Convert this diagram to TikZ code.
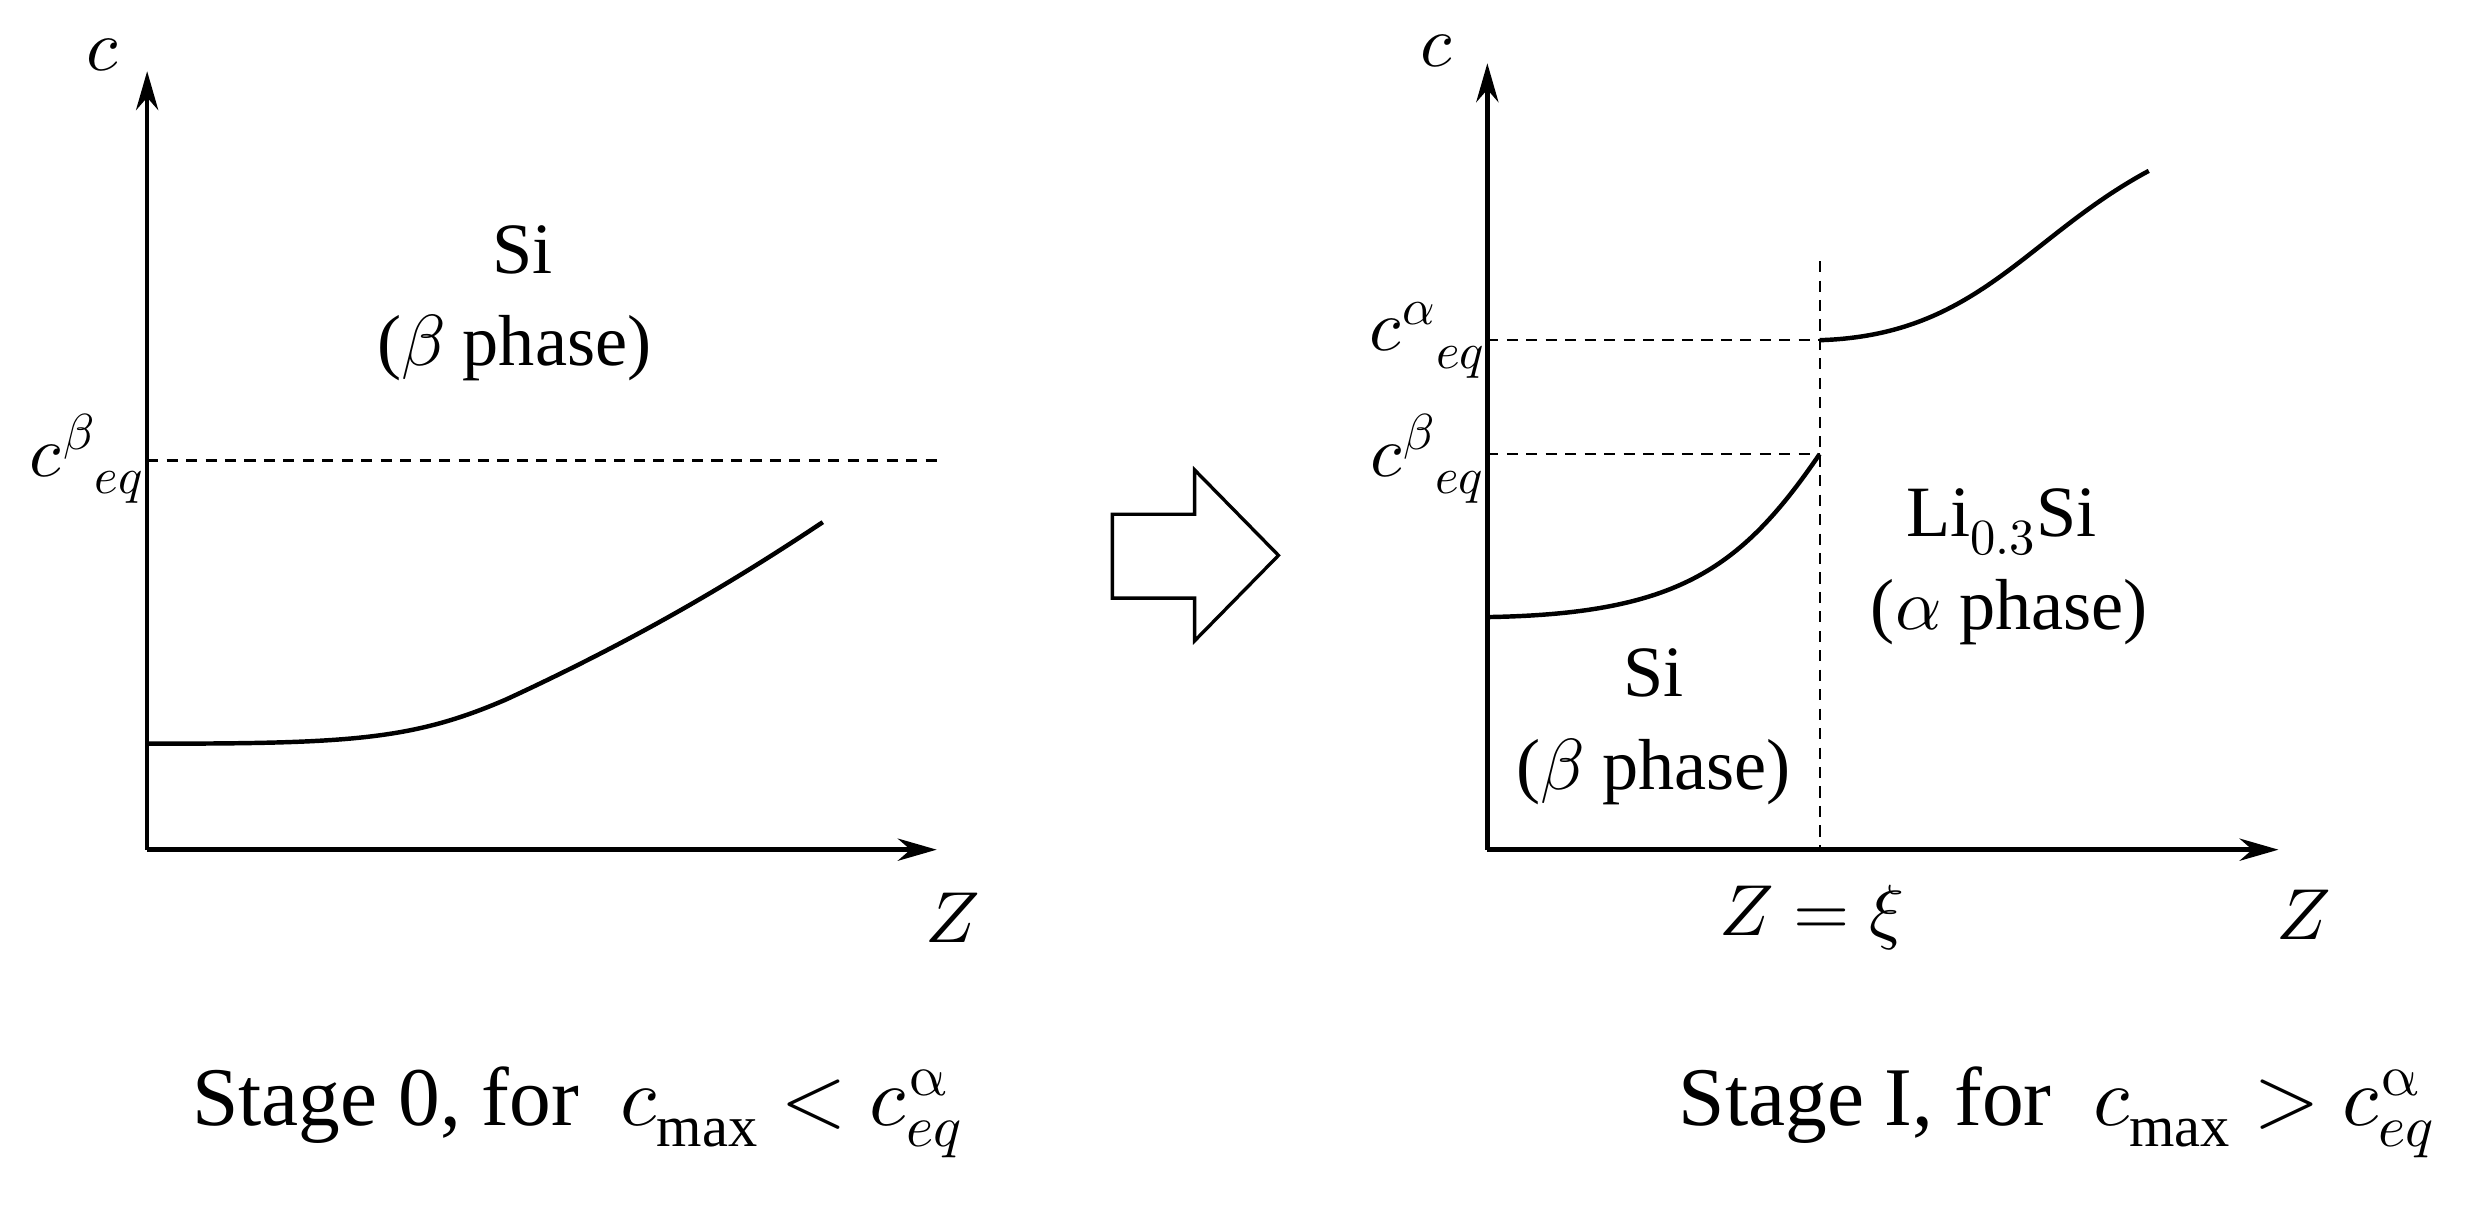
\documentclass[tikz,border=0pt]{standalone}
\usepackage{fontspec}
\setmainfont{Liberation Serif}
\usepackage{unicode-math}
\setmathfont{Latin Modern Math}
\usetikzlibrary{arrows.meta}
\begin{document}
\begin{tikzpicture}[x=0.02cm,y=-0.02cm,
 ax/.style={line width=1.6pt,-{Stealth[length=14pt,width=8pt]}},
 dsh/.style={line width=0.8pt,dash pattern=on 4pt off 3pt},
 crv/.style={line width=1.6pt},
 lab/.style={font=\fontsize{26}{30}\selectfont},
 captxt/.style={font=\fontsize{30}{34}\selectfont}]
\useasboundingbox (0,0) rectangle (1568,763);
% left panel
\coordinate (o1) at (93,537);
\coordinate (y1) at (93,45);
\coordinate (x1) at (592,537);
\draw[ax] (o1) -- (y1);
\draw[ax] (o1) -- (x1);
\node[lab] (c1) at (65,35) {$c$};
\node[lab] (z1) at (602,580) {$Z$};
\coordinate (d1a) at (93,291); \coordinate (d1b) at (595,291);
\draw[dsh] (d1a) -- (d1b);
\node[lab] (ceb1) at (55,290) {$c^{\beta}{}_{eq}$};
\draw[crv] (93,470) .. controls (220,470) and (260,468) .. (320,442) .. controls (400,405) and (460,370) .. (520,330);
\node[lab] (si1) at (330,158) {Si};
\node[lab] (bp1) at (325,220) {($\beta$ phase)};
% block arrow
\draw[line width=1.2pt] (703,325) -- (755,325) -- (755,297) -- (808,351) -- (755,405) -- (755,378) -- (703,378) -- cycle;
% right panel
\coordinate (o2) at (940,537);
\coordinate (y2) at (940,40);
\coordinate (x2) at (1440,537);
\draw[ax] (o2) -- (y2);
\draw[ax] (o2) -- (x2);
\node[lab] (c2) at (908,32) {$c$};
\node[lab] (z2) at (1456,578) {$Z$};
\coordinate (v2a) at (1150,165); \coordinate (v2b) at (1150,537);
\draw[dsh] (v2a) -- (v2b);
\coordinate (h2a) at (940,215); \coordinate (h2b) at (1150,215);
\draw[dsh] (h2a) -- (h2b);
\coordinate (h2c) at (940,287); \coordinate (h2d) at (1150,287);
\draw[dsh] (h2c) -- (h2d);
\node[lab] (cea2) at (902,215) {$c^{\alpha}{}_{eq}$};
\node[lab] (ceb2) at (902,290) {$c^{\beta}{}_{eq}$};
\draw[crv] (940,390) .. controls (1060,388) and (1100,360) .. (1150,287);
\draw[crv] (1150,215) .. controls (1250,212) and (1280,150) .. (1358,108);
\node[lab] (li) at (1265,330) {Li$_{0.3}$Si};
\node[lab] (ap) at (1270,387) {($\alpha$ phase)};
\node[lab] (si2) at (1045,425) {Si};
\node[lab] (bp2) at (1045,488) {($\beta$ phase)};
\node[lab] (zx) at (1145,580) {$Z=\xi$};
% captions
\node[captxt] (s0) at (365,703) {Stage 0, for\ \ $c_{\mathrm{max}}<c^{\symup{\alpha}}_{eq}$};
\node[captxt] (s1) at (1300,703) {Stage I, for\ \ $c_{\mathrm{max}}>c^{\symup{\alpha}}_{eq}$};
\end{tikzpicture}
\end{document}
